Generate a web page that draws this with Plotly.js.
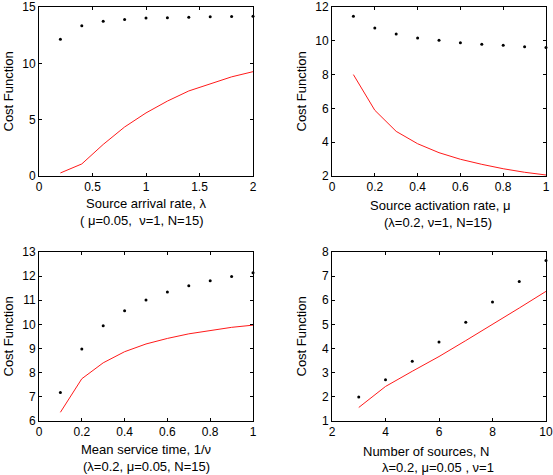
<!DOCTYPE html>
<html>
<head>
<meta charset="utf-8">
<script src="https://cdn.plot.ly/plotly-3.0.1.min.js"></script>
<style>html,body{margin:0;padding:0;background:#fff;}#chart{width:553px;height:475px;}</style>
</head>
<body>
<div id="chart"></div>
<script>
// Panel 1: cost vs source arrival rate lambda
const lambdaVals = [0.2, 0.4, 0.6, 0.8, 1.0, 1.2, 1.4, 1.6, 1.8, 2.0];
const lambdaDots = [12.13, 13.34, 13.73, 13.9, 14.02, 14.05, 14.1, 14.14, 14.16, 14.17];
const lambdaLine = [0.27, 1.07, 2.8, 4.35, 5.6, 6.65, 7.55, 8.2, 8.8, 9.26];

// Panel 2: cost vs source activation rate mu
const muVals = [0.1, 0.2, 0.3, 0.4, 0.5, 0.6, 0.7, 0.8, 0.9, 1.0];
const muDots = [11.45, 10.76, 10.4, 10.17, 10.03, 9.89, 9.79, 9.73, 9.65, 9.61];
const muLine = [8.0, 5.89, 4.64, 3.91, 3.38, 2.99, 2.69, 2.43, 2.22, 2.06];

// Panel 3: cost vs mean service time 1/nu
const svcVals = [0.1, 0.2, 0.3, 0.4, 0.5, 0.6, 0.7, 0.8, 0.9, 1.0];
const svcDots = [7.18, 8.98, 9.95, 10.57, 11.01, 11.34, 11.6, 11.81, 11.99, 12.14];
const svcLine = [6.36, 7.75, 8.41, 8.87, 9.19, 9.42, 9.61, 9.75, 9.88, 9.97];

// Panel 4: cost vs number of sources N
const nVals = [3, 4, 5, 6, 7, 8, 9, 10];
const nDots = [1.99, 2.71, 3.47, 4.27, 5.09, 5.93, 6.78, 7.65];
const nLine = [1.56, 2.43, 3.06, 3.67, 4.33, 4.99, 5.68, 6.37];

const xTitles = ["Source arrival rate, λ", "Source activation rate, μ", "Mean service time, 1/ν", "Number of sources, N"];
const subTitles = ["( μ=0.05,  ν=1, N=15)", "(λ=0.2, ν=1, N=15)", "(λ=0.2, μ=0.05, N=15)", "λ=0.2, μ=0.05 , ν=1"];
const yTitle = "Cost Function";

const W = 553, H = 475;
const px = v => v / W;
const py = v => 1 - v / H;

function dots(x, y, ax) {
  return {x: x, y: y, xaxis: 'x' + ax, yaxis: 'y' + ax, mode: 'markers', type: 'scatter',
    marker: {color: '#000', size: 3}, cliponaxis: false, showlegend: false, hoverinfo: 'skip'};
}
function line(x, y, ax) {
  return {x: x, y: y, xaxis: 'x' + ax, yaxis: 'y' + ax, mode: 'lines', type: 'scatter',
    line: {color: '#ff1a1a', width: 1}, cliponaxis: false, showlegend: false, hoverinfo: 'skip'};
}

const data = [
  dots(lambdaVals, lambdaDots, ''), line(lambdaVals, lambdaLine, ''),
  dots(muVals, muDots, '2'), line(muVals, muLine, '2'),
  dots(svcVals, svcDots, '3'), line(svcVals, svcLine, '3'),
  dots(nVals, nDots, '4'), line(nVals, nLine, '4')
];

const font = {family: 'Liberation Sans, Arial, sans-serif', size: 12, color: '#000'};
function axis(domain, range, dtick, anchor, tick0) {
  return {domain: domain, range: range, dtick: dtick, tick0: tick0, anchor: anchor,
    showline: true, mirror: 'ticks', linecolor: '#000', linewidth: 1,
    ticks: 'inside', ticklen: 3, tickcolor: '#000', showgrid: false, zeroline: false,
    tickfont: font, fixedrange: true};
}

const xL = [px(39), px(253)], xR = [px(332), px(546)];
const yT = [py(176), py(7)], yB = [py(421), py(252)];

const layout = {
  width: W, height: H,
  margin: {l: 0, r: 0, t: 0, b: 0},
  paper_bgcolor: '#fff', plot_bgcolor: '#fff',
  font: font,
  xaxis: axis(xL, [0, 2], 0.5, 'y', 0),
  yaxis: axis(yT, [0, 15], 5, 'x', 0),
  xaxis2: axis(xR, [0, 1], 0.2, 'y2', 0),
  yaxis2: axis(yT, [2, 12], 2, 'x2', 2),
  xaxis3: axis(xL, [0, 1], 0.2, 'y3', 0),
  yaxis3: axis(yB, [6, 13], 1, 'x3', 6),
  xaxis4: axis(xR, [2, 10], 2, 'y4', 2),
  yaxis4: axis(yB, [1, 8], 1, 'x4', 1),
  annotations: []
};

const tf = {family: 'Liberation Sans, Arial, sans-serif', size: 13, color: '#000'};
const titlePos = [
  {cx: 146, l1: 203, l2: 220, sx: 141},
  {cx: 440, l1: 205, l2: 222, sx: 438},
  {cx: 146, l1: 449, l2: 466, sx: 146},
  {cx: 426, l1: 451, l2: 467, sx: 438}
];
titlePos.forEach((p, i) => {
  layout.annotations.push({xref: 'paper', yref: 'paper', x: px(p.cx), y: py(p.l1), text: xTitles[i],
    showarrow: false, xanchor: 'center', yanchor: 'middle', font: tf});
  layout.annotations.push({xref: 'paper', yref: 'paper', x: px(p.sx), y: py(p.l2), text: subTitles[i],
    showarrow: false, xanchor: 'center', yanchor: 'middle', font: tf});
});
[[8, 91.5], [301, 91.5], [8, 336.5], [301, 336.5]].forEach(p => {
  layout.annotations.push({xref: 'paper', yref: 'paper', x: px(p[0]), y: py(p[1]), text: yTitle,
    showarrow: false, xanchor: 'center', yanchor: 'middle', textangle: -90, font: tf});
});

Plotly.newPlot('chart', data, layout, {displayModeBar: false, staticPlot: true});
</script>
</body>
</html>
